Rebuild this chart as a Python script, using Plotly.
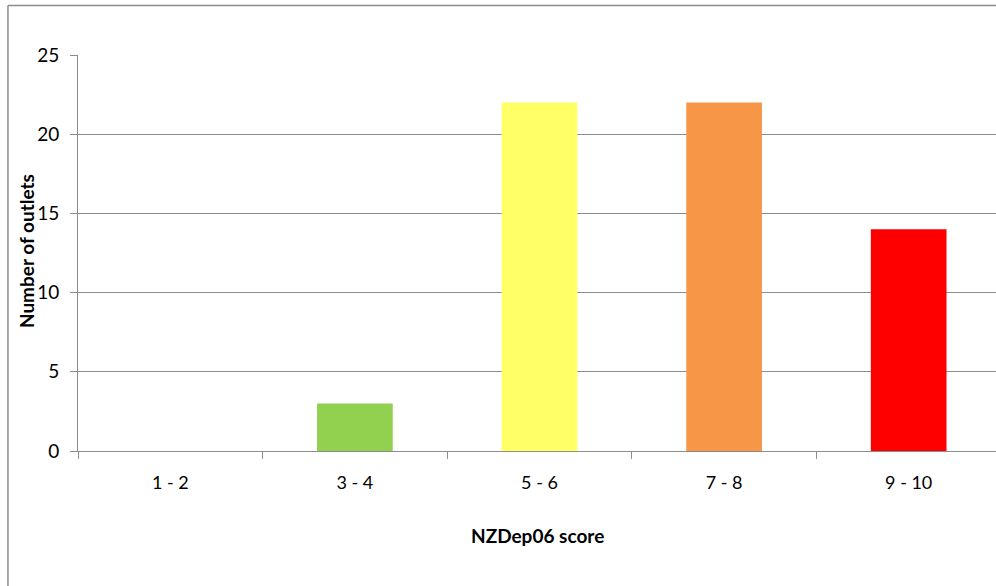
import plotly.graph_objects as go

# NZDep06 deprivation score bands and number of outlets in each
categories = ["1 - 2", "3 - 4", "5 - 6", "7 - 8", "9 - 10"]
outlets = [0, 3, 22, 22, 14]
bar_colors = ["#92D050", "#92D050", "#FFFF66", "#F79646", "#FF0000"]
y_ticks = [0, 5, 10, 15, 20, 25]

FONT = "Lato"
GRID = "#8C8C8C"

fig = go.Figure(
    go.Bar(
        x=categories,
        y=outlets,
        marker=dict(color=bar_colors, line=dict(width=0)),
        width=0.41,
        hoverinfo="x+y",
    )
)

fig.update_layout(
    width=996,
    height=586,
    margin=dict(l=78, r=0, t=55, b=135),
    paper_bgcolor="white",
    plot_bgcolor="white",
    showlegend=False,
    font=dict(family=FONT, size=19, color="#000000"),
    xaxis=dict(
        type="category",
        range=[-0.5, 4.473],
        tickson="boundaries",
        ticks="outside",
        ticklen=7,
        tickcolor=GRID,
        showline=True,
        linecolor=GRID,
        linewidth=1,
        showgrid=False,
        ticklabelstandoff=15,
        tickfont=dict(size=18),
    ),
    yaxis=dict(
        range=[0, 25],
        tickvals=y_ticks,
        ticks="outside",
        ticklen=7,
        tickcolor=GRID,
        showline=True,
        linecolor=GRID,
        linewidth=1,
        showgrid=True,
        gridcolor=GRID,
        gridwidth=1,
        zeroline=False,
        ticklabelstandoff=7,
        tickfont=dict(size=19),
    ),
    annotations=[
        dict(text="<b>Number of outlets</b>", xref="paper", yref="paper",
             x=-0.0566, y=0.505, xanchor="center", yanchor="middle",
             textangle=-90, showarrow=False, font=dict(family=FONT, size=19)),
        dict(text="<b>NZDep06 score</b>", xref="paper", yref="paper",
             x=0.5, y=-0.2128, xanchor="center", yanchor="middle",
             showarrow=False, font=dict(family=FONT, size=19)),
    ],
)

# Outer chart frame (left and top edges are inside the page)
fig.add_shape(type="line", xref="paper", yref="paper",
              x0=-0.0763, x1=-0.0763, y0=1.125, y1=-0.5,
              line=dict(color="#8C8C8C", width=1.5))
fig.add_shape(type="line", xref="paper", yref="paper",
              x0=-0.0763, x1=1.2, y0=1.125, y1=1.125,
              line=dict(color="#8C8C8C", width=1.5))

fig.write_html("out.html")
